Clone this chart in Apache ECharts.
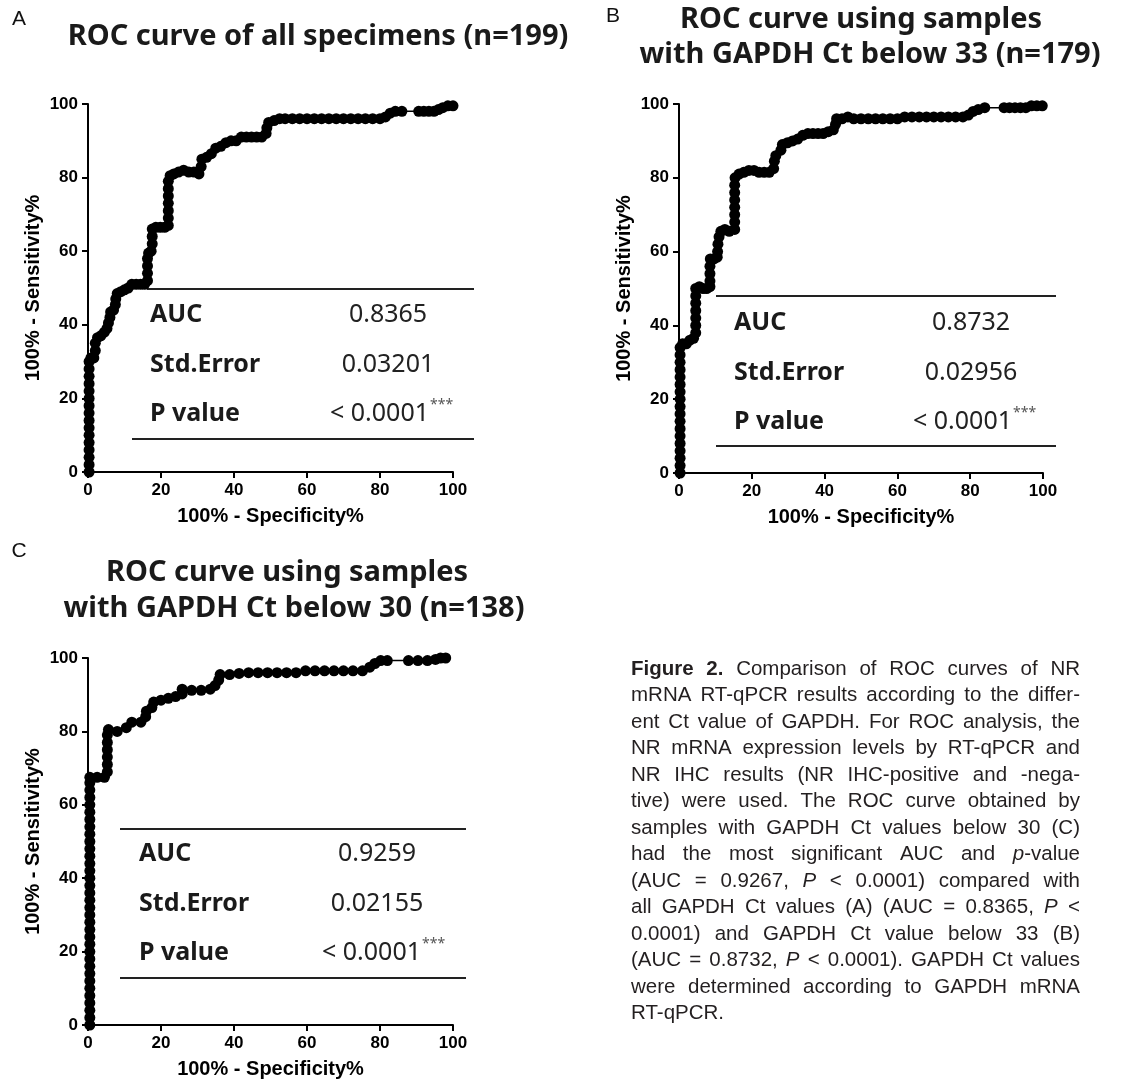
<!DOCTYPE html>
<html><head><meta charset="utf-8">
<script src="https://cdn.jsdelivr.net/npm/echarts@6/dist/echarts.min.js"></script>
<style>html,body{margin:0;padding:0;background:#fff}#c{width:1124px;height:1086px}</style>
</head><body><div id="c"></div>
<script>
// ---------------- DATA ----------------
const panelLetters = ['A', 'B', 'C'];
const titlesA = ['ROC curve of all specimens (n=199)'];
const titlesB = ['ROC curve using samples', 'with GAPDH Ct below 33 (n=179)'];
const titlesC = ['ROC curve using samples', 'with GAPDH Ct below 30 (n=138)'];
const statLabels = ['AUC', 'Std.Error', 'P value'];
const aucValues = ['0.8365', '0.8732', '0.9259'];
const seValues = ['0.03201', '0.02956', '0.02155'];
const pValues = ['< 0.0001', '< 0.0001', '< 0.0001'];
const pStars = '***';
const axisTicks = [0, 20, 40, 60, 80, 100];
const xAxisName = '100% - Specificity%';
const yAxisName = '100% - Sensitivity%';

// [100% - Specificity%, Sensitivity%]
const rocA = [[0.3,0],[0.3,2],[0.3,4],[0.3,6],[0.3,8],[0.3,10],[0.3,12],[0.3,14],[0.3,16],[0.3,18],[0.3,20],[0.3,22],[0.3,24],[0.3,26],[0.3,28],[0.3,30],
 [0.8,31],[1.6,31],[2,33],[2,35],[2.6,36.5],[3.5,37],[4.5,38],[5.2,39],[5.6,40.5],[6,42],[6.2,43.5],[7,44],[7.5,45.5],[7.6,47],[8,48.5],[9,49],[10,49.5],[11,50],[12,51],[13.2,51],[14.4,51],[15.5,51],
 [16.3,52],[16.3,54],[16.3,56],[16.3,58],[16.6,59.5],[17.3,60],[17.6,62],[17.6,64],[17.6,66],[18.6,66.5],[19.8,66.5],[21,66.5],
 [22,67],[22,69],[22,71],[22,73],[22,75],[22,77],[22,79],[22.5,80.5],[23.5,81],[24.8,81.5],[26.2,82],[27.6,81.5],[29,81.5],[30.4,81],[31,83],[31.2,85],[32.5,85.5],[33.8,86.5],[35,88],[36.4,88.5],[37.8,89.5],[39.2,90],[40.6,90],[42,91],[43.4,91],[44.8,91],[46.2,91],[47.6,91],[48.8,92],[49,93.5],[49.5,95],[51,95.5],[52.5,96],[54,96],[56,96],[58,96],[60,96],[62,96],[64,96],[66,96],[68,96],[70,96],[72,96],[74,96],[76,96],[78,96],[80,96],[81.5,96.5],[82.8,97.5],[84.2,98],[86,98],[90.6,98],[92,98],[93.4,98],[94.8,98],[96,98.5],[97.2,99],[98.6,99.5],[100,99.5]];

const rocB = [[0.3,0],[0.3,2],[0.3,4],[0.3,6],[0.3,8],[0.3,10],[0.3,12],[0.3,14],[0.3,16],[0.3,18],[0.3,20],[0.3,22],[0.3,24],[0.3,26],[0.3,28],[0.3,30],[0.3,32],[0.3,34],
 [1,35],[2,35],[3,36],[4,36.5],[4.6,38],[4.6,40],[4.6,42],[4.6,44],[4.6,46],[4.6,48],[4.6,50],[5.6,50.5],[6.6,50],[7.6,50],[8.5,50.5],[8.5,52],[8.5,54],[8.5,56],[8.6,58],[9.6,58],[10.5,58.5],[10.6,60],[10.7,62],[11,64],[11.5,65.5],[12.6,66],[13.8,65.5],
 [15.3,66],[15.3,68],[15.3,70],[15.3,72],[15.3,74],[15.3,76],[15.3,78],[15.4,80],[16.5,81],[17.8,81.5],[19.2,82],[20.6,82],[22,81.5],[23.4,81.5],[24.8,81.5],[26,82.5],[26.2,84.5],[26.6,86],[28,87.5],[28.4,89],[29.8,89.5],[31.2,90],[32.6,90.5],[34,91.5],[35.4,92],[36.8,92],[38.2,92],[39.6,92],[41,92.5],[42.4,93],[43,94.5],[43.3,96],[44.8,96],[46.4,96.5],[48,96],[50,96],[52,96],[54,96],[56,96],[58,96],[60,96],[62,96.5],[64,96.5],[66,96.5],[68,96.5],[70,96.5],[72,96.5],[74,96.5],[76,96.5],[78,96.5],[79.5,97],[80.8,98],[82.2,98.5],[84,99],[89.3,99],[90.8,99],[92.3,99],[93.8,99],[95.3,99],[96.8,99.5],[98.3,99.5],[99.8,99.5]];

const rocC = [[0.5,0],[0.5,2],[0.5,4],[0.5,6],[0.5,8],[0.5,10],[0.5,12],[0.5,14],[0.5,16],[0.5,18],[0.5,20],[0.5,22],[0.5,24],[0.5,26],[0.5,28],[0.5,30],[0.5,32],[0.5,34],[0.5,36],[0.5,38],[0.5,40],[0.5,42],[0.5,44],[0.5,46],[0.5,48],[0.5,50],[0.5,52],[0.5,54],[0.5,56],[0.5,58],[0.5,60],[0.5,62],[0.5,64],[0.5,66],
 [0.5,67.5],[2.5,67.5],[4.5,67.5],[5.3,69],[5.3,71],[5.3,73],[5.3,75],[5.3,77],[5.3,79],[5.6,80.5],[8,80],[10.5,81],[12,82.5],[14.5,82.5],[15.8,84],[16,85.5],[17.5,86.5],[18,88],[20,88.5],[22,89],[24,89.5],[25.8,90.2],[25.8,91.5],[28.4,91.2],[31,91.2],[33.5,91.5],[34.8,92.5],[35.8,94],[36.2,95.5],[38.8,95.5],[41.4,95.8],[44,96],[46.6,96],[49.2,96],[51.8,96],[54.4,96],[57,96],[59.6,96.5],[62.2,96.5],[64.8,96.5],[67.4,96.5],[70,96.5],[72.6,96.5],[75.2,96.5],[77.2,97.5],[78.6,98.5],[80.2,99.3],[82,99.3],[87.8,99.3],[90.4,99.3],[93,99.3],[95.2,99.6],[96.6,100],[98,100]];

const captionLines = [
 '{b|Figure} {b|2.} Comparison of ROC curves of NR',
 'mRNA RT-qPCR results according to the differ-',
 'ent Ct value of GAPDH. For ROC analysis, the',
 'NR mRNA expression levels by RT-qPCR and',
 'NR IHC results (NR IHC-positive and -nega-',
 'tive) were used. The ROC curve obtained by',
 'samples with GAPDH Ct values below 30 (C)',
 'had the most significant AUC and {i|p}-value',
 '(AUC = 0.9267, {i|P} < 0.0001) compared with',
 'all GAPDH Ct values (A) (AUC = 0.8365, {i|P} <',
 '0.0001) and GAPDH Ct value below 33 (B)',
 '(AUC = 0.8732, {i|P} < 0.0001). GAPDH Ct values',
 'were determined according to GAPDH mRNA',
 'RT-qPCR.'
];

// ---------------- LAYOUT ----------------
const layout = {
  grids: [{left:88,top:104,width:365,height:368},{left:679,top:104,width:364,height:369},{left:88,top:658,width:365,height:367}],
  letters: [[19,19],[613,16],[19,551]],
  titles: [[[318,37]], [[861,20],[870,55]], [[287,573],[294,609]]],
  tables: [
    {top:[147,474,289], bot:[132,474,439], labelX:150, valX:388, pRight:429, rows:[315,365,414]},
    {top:[716,1056,296], bot:[716,1056,446], labelX:734, valX:971, pRight:1012, rows:[323,373,422]},
    {top:[120,466,829], bot:[120,466,978], labelX:139, valX:377, pRight:421, rows:[854,904,953]}
  ],
  caption: {left:631, right:1080, top:669, lh:26.5, size:20.5}
};

const titleFam = "'Noto Sans', 'Open Sans', sans-serif";
const axisFam = "'Liberation Sans', Arial, sans-serif";
const capFam = "'Liberation Sans', Arial, sans-serif";
const capBoldFam = "'Liberation Sans Narrow', 'Liberation Sans', Arial, sans-serif";

const rocs = [rocA, rocB, rocC];
const titles = [titlesA, titlesB, titlesC];

const grids = [], xAxes = [], yAxes = [], series = [], graphics = [];
layout.grids.forEach((g, i) => {
  grids.push(Object.assign({outerBoundsMode:'none', containLabel:false}, g));
  const common = {
    type:'value', gridIndex:i, min:axisTicks[0], max:axisTicks[axisTicks.length-1], interval:axisTicks[1]-axisTicks[0],
    axisLine:{show:true, onZero:false, lineStyle:{color:'#000', width:2}},
    axisTick:{show:true, inside:false, length:6, lineStyle:{color:'#000', width:2}},
    splitLine:{show:false},
    axisLabel:{color:'#000', fontWeight:'bold', fontSize:17, fontFamily:axisFam, margin:10, showMinLabel:true, showMaxLabel:true},
    nameLocation:'middle',
    nameTextStyle:{color:'#000', fontWeight:'bold', fontSize:20, fontFamily:axisFam}
  };
  xAxes.push(Object.assign({}, common, {name:xAxisName, nameGap:34}));
  yAxes.push(Object.assign({}, common, {name:yAxisName, nameGap:45}));
  series.push({
    type:'line', xAxisIndex:i, yAxisIndex:i, data:rocs[i], clip:false,
    symbol:'circle', symbolSize:11, showSymbol:true, showAllSymbol:true,
    itemStyle:{color:'#000', borderWidth:0},
    lineStyle:{color:'#000', width:1.5},
    emphasis:{disabled:true}, animation:false, silent:true
  });

  // panel letter
  graphics.push({type:'text', x:layout.letters[i][0], y:layout.letters[i][1],
    style:{text:panelLetters[i], fontSize:21, fontFamily:axisFam, fill:'#111', align:'center', verticalAlign:'middle'}});
  // titles
  titles[i].forEach((t, k) => {
    const p = layout.titles[i][k];
    graphics.push({type:'text', x:p[0], y:p[1],
      style:{text:t, fontSize:29, fontWeight:'bold', fontFamily:titleFam, fill:'#1a1a1a', align:'center', verticalAlign:'middle'}});
  });
  // stats table
  const tb = layout.tables[i];
  graphics.push({type:'line', shape:{x1:tb.top[0], y1:tb.top[2], x2:tb.top[1], y2:tb.top[2]}, style:{stroke:'#222', lineWidth:2}});
  graphics.push({type:'line', shape:{x1:tb.bot[0], y1:tb.bot[2], x2:tb.bot[1], y2:tb.bot[2]}, style:{stroke:'#222', lineWidth:2}});
  statLabels.forEach((lab, r) => {
    graphics.push({type:'text', x:tb.labelX, y:tb.rows[r],
      style:{text:lab, fontSize:25, fontWeight:'bold', fontFamily:titleFam, fill:'#1a1a1a', align:'left', verticalAlign:'middle'}});
  });
  graphics.push({type:'text', x:tb.valX, y:tb.rows[0],
    style:{text:aucValues[i], fontSize:25, fontFamily:titleFam, fill:'#222', align:'center', verticalAlign:'middle'}});
  graphics.push({type:'text', x:tb.valX, y:tb.rows[1],
    style:{text:seValues[i], fontSize:25, fontFamily:titleFam, fill:'#222', align:'center', verticalAlign:'middle'}});
  graphics.push({type:'text', x:tb.pRight, y:tb.rows[2],
    style:{text:pValues[i], fontSize:25, fontFamily:titleFam, fill:'#222', align:'right', verticalAlign:'middle'}});
  graphics.push({type:'text', x:tb.pRight + 1, y:tb.rows[2] - 9,
    style:{text:pStars, fontSize:14, fontFamily:titleFam, fill:'#555', align:'left', verticalAlign:'middle'}});
});

// ---------------- CAPTION (justified, word by word) ----------------
const mctx = document.createElement('canvas').getContext('2d');
const cs = layout.caption.size;
function segs(word) {
  const out = []; const re = /\{(\w)\|([^}]*)\}|([^{]+)/g; let m;
  while ((m = re.exec(word))) { if (m[3] !== undefined) out.push({t:m[3], s:''}); else out.push({t:m[2], s:m[1]}); }
  return out;
}
function fontFor(s) {
  if (s === 'b') return `bold ${cs}px ${capBoldFam}`;
  if (s === 'i') return `italic ${cs}px ${capFam}`;
  return `${cs}px ${capFam}`;
}
function wordWidth(word) {
  return segs(word).reduce((a, g) => { mctx.font = fontFor(g.s); return a + mctx.measureText(g.t).width; }, 0);
}
const W = layout.caption.right - layout.caption.left;
captionLines.forEach((line, li) => {
  const words = line.split(' ');
  const ws = words.map(wordWidth);
  const sum = ws.reduce((a, b) => a + b, 0);
  mctx.font = fontFor('');
  let gap = mctx.measureText(' ').width;
  if (li < captionLines.length - 1 && words.length > 1) gap = (W - sum) / (words.length - 1);
  let x = layout.caption.left;
  const y = layout.caption.top + li * layout.caption.lh;
  words.forEach((w, k) => {
    graphics.push({type:'text', x:x, y:y, style:{
      text:w, fontSize:cs, fontFamily:capFam, fill:'#231f20', align:'left', verticalAlign:'middle',
      rich:{
        b:{fontSize:cs, fontFamily:capBoldFam, fontWeight:'bold', fill:'#231f20'},
        i:{fontSize:cs, fontFamily:capFam, fontStyle:'italic', fill:'#231f20'}
      }}});
    x += ws[k] + gap;
  });
});

const chart = echarts.init(document.getElementById('c'), null, {renderer:'canvas'});
chart.setOption({
  backgroundColor:'#ffffff',
  animation:false,
  grid:grids, xAxis:xAxes, yAxis:yAxes, series:series,
  graphic:{elements:graphics}
});
</script></body></html>
